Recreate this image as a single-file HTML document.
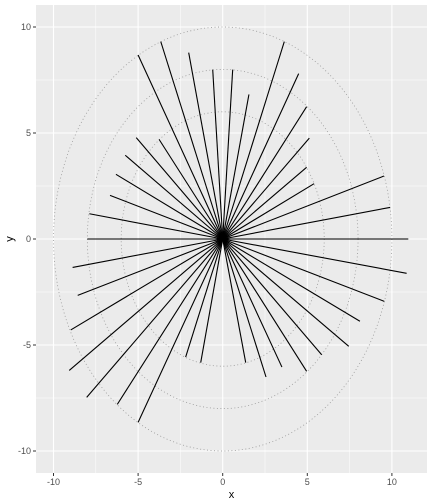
<!DOCTYPE html>
<html><head><meta charset="utf-8"><style>
body{margin:0;background:#fff}
svg{display:block;font-family:"Liberation Sans",sans-serif}
</style></head><body>
<svg id="c" width="432" height="504" xmlns="http://www.w3.org/2000/svg"></svg>
<script>
const xEnd=[10.97,9.89,9.53,5.40,4.96,5.12,4.96,4.49,3.64,1.55,0.59,-0.59,-2.01,-3.66,-5.0,-3.76,-5.11,-5.76,-6.31,-6.66,-7.88,-8.0,-8.87,-8.57,-8.98,-9.07,-8.04,-6.23,-5.0,-2.19,-1.30,1.36,2.56,3.50,4.96,5.85,7.45,8.11,9.55,10.87];
const yEnd=[0,1.49,2.97,2.61,3.38,4.76,6.24,7.80,9.31,6.82,7.99,7.99,8.79,9.31,8.68,4.70,4.78,3.95,3.05,2.06,1.19,0,-1.34,-2.66,-4.29,-6.20,-7.47,-7.80,-8.65,-5.57,-5.83,-5.83,-6.51,-6.04,-6.24,-5.46,-5.06,-3.88,-2.94,-1.62];
const radii=[6,8,10];
const xTicks=[-10,-5,0,5,10];
const yTicks=[10,5,0,-5,-10];
const xMinor=[-7.5,-2.5,2.5,7.5];
const yMinor=[7.5,2.5,-2.5,-7.5];

const NS="http://www.w3.org/2000/svg";
const svg=document.getElementById('c');
const PL=36,PR=427,PT=5,PB=473;
const X0=222.7,KX=16.92,Y0=239,KY=21.2;
const sx=v=>X0+v*KX, sy=v=>Y0-v*KY;
function mk(t,a,p){const e=document.createElementNS(NS,t);for(const k in a)e.setAttribute(k,a[k]);(p||svg).appendChild(e);return e;}

const panel=mk('rect',{x:PL,y:PT,width:PR-PL,height:PB-PT,fill:'#ebebeb'});



xMinor.forEach(v=>{const l=mk('line',{x1:sx(v),x2:sx(v),y1:PT,y2:PB,stroke:'#fff','stroke-width':0.5});

});
yMinor.forEach(v=>{const l=mk('line',{x1:PL,x2:PR,y1:sy(v),y2:sy(v),stroke:'#fff','stroke-width':0.5});

});
xTicks.forEach(v=>{const l=mk('line',{x1:sx(v),x2:sx(v),y1:PT,y2:PB,stroke:'#fff','stroke-width':1.1});


const t=mk('line',{x1:sx(v),x2:sx(v),y1:PB,y2:PB+3,stroke:'#333','stroke-width':1});


const tx=mk('text',{x:sx(v),y:PB+12,'text-anchor':'middle','font-size':9,fill:'#4d4d4d'});tx.textContent=v;

});
yTicks.forEach(v=>{const l=mk('line',{x1:PL,x2:PR,y1:sy(v),y2:sy(v),stroke:'#fff','stroke-width':1.1});


const t=mk('line',{x1:PL-3,x2:PL,y1:sy(v),y2:sy(v),stroke:'#333','stroke-width':1});


const tx=mk('text',{x:PL-5,y:sy(v)+3,'text-anchor':'end','font-size':9,fill:'#4d4d4d'});tx.textContent=v;

});

radii.forEach(r=>{const e=mk('ellipse',{cx:sx(0),cy:sy(0),rx:r*KX,ry:r*KY,fill:'none',stroke:'#999','stroke-width':0.8,'stroke-dasharray':'1 2.5'});

});

xEnd.forEach((x,i)=>{const l=mk('line',{x1:sx(0),y1:sy(0),x2:sx(x),y2:sy(yEnd[i]),stroke:'#000','stroke-width':1.1});

});

const xt=mk('text',{x:(PL+PR)/2,y:498,'text-anchor':'middle','font-size':11,fill:'#000'});xt.textContent='x';


const yt=mk('text',{x:13,y:(PT+PB)/2,'text-anchor':'middle','font-size':11,fill:'#000',transform:`rotate(-90 13 ${(PT+PB)/2})`});yt.textContent='y';


</script>
</body></html>
